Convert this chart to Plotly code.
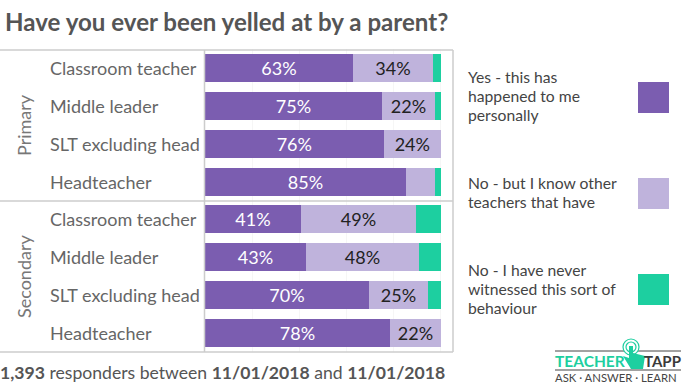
import plotly.graph_objects as go
from plotly.subplots import make_subplots

W, H = 684, 384
roles = ["Classroom teacher", "Middle leader", "SLT excluding head", "Headteacher"]
phases = ["Primary", "Secondary"]
series_names = ["Yes - this has happened to me personally",
                "No - but I know other teachers that have",
                "No - I have never witnessed this sort of behaviour"]
legend_lines = [["Yes - this has", "happened to me", "personally"],
                ["No - but I know other", "teachers that have"],
                ["No - I have never", "witnessed this sort of", "behaviour"]]
colors = ["#7B5DB0", "#BFB3DC", "#1DCFA0"]
text_colors = ["white", "#222222", "#222222"]

primary_yes = [62.7, 75.0, 75.7, 85.2]
primary_know = [33.9, 22.5, 24.3, 12.3]
primary_never = [3.4, 2.5, 0, 2.5]
primary_yes_labels = ["63%", "75%", "76%", "85%"]
primary_know_labels = ["34%", "22%", "24%", ""]

secondary_yes = [40.7, 42.8, 69.5, 78.4]
secondary_know = [48.7, 47.9, 25.0, 21.6]
secondary_never = [10.6, 9.3, 5.5, 0]
secondary_yes_labels = ["41%", "43%", "70%", "78%"]
secondary_know_labels = ["49%", "48%", "25%", "22%"]

px = lambda v: v / W
py = lambda v: 1 - v / H

fig = make_subplots(rows=2, cols=1, shared_xaxes=False, vertical_spacing=0)

data = [
    (1, [primary_yes, primary_know, primary_never],
     [primary_yes_labels, primary_know_labels, [""] * 4]),
    (2, [secondary_yes, secondary_know, secondary_never],
     [secondary_yes_labels, secondary_know_labels, [""] * 4]),
]
for row, vals, labels in data:
    for i in range(3):
        fig.add_trace(go.Bar(
            y=roles, x=vals[i], orientation="h", name=series_names[i],
            marker=dict(color=colors[i], line=dict(width=0)),
            text=labels[i], textposition="inside", insidetextanchor="middle",
            textangle=0, constraintext="none",
            textfont=dict(family="Lato", size=18, color=text_colors[i]),
            showlegend=False, hoverinfo="skip",
        ), row=row, col=1)

x_dom = [px(205), px(453)]
axis_common = dict(range=[0, 105.1], domain=x_dom, tickvals=[20, 40, 60, 80, 100],
                   showticklabels=False, ticks="", showgrid=True, gridcolor="#F6F6F6",
                   gridwidth=1, zeroline=False, showline=False)
fig.update_xaxes(**axis_common)
fig.update_yaxes(autorange="reversed", showticklabels=False, ticks="", showgrid=False,
                 zeroline=False, showline=False)
fig.update_layout(
    xaxis=dict(anchor="y"), xaxis2=dict(anchor="y2"),
    yaxis=dict(domain=[py(201), py(49)]),
    yaxis2=dict(domain=[py(352), py(200)]),
    barmode="stack", bargap=10 / 38,
    width=W, height=H, autosize=False, margin=dict(l=0, r=0, t=0, b=0),
    paper_bgcolor="white", plot_bgcolor="white",
    font=dict(family="Lato"), showlegend=False,
)

ann = []
for yref in ["y", "y2"]:
    for role in roles:
        ann.append(dict(x=px(48), xref="paper", y=role, yref=yref, text=role, showarrow=False,
                        xanchor="left", yanchor="middle",
                        font=dict(family="Lato", size=18, color="#666666")))
for name, yc in zip(phases, [125, 277]):
    ann.append(dict(x=px(24), xref="paper", y=py(yc), yref="paper", text=name, textangle=-90,
                    xanchor="center", yanchor="middle", showarrow=False,
                    font=dict(family="Lato", size=18, color="#777777")))
ann.append(dict(x=px(3), xref="paper", y=py(22), yref="paper", xanchor="left", yanchor="middle",
                text="<b>Have you ever been yelled at by a parent?</b>", showarrow=False,
                font=dict(family="Lato", size=24.1, color="#555555")))
ann.append(dict(x=px(-2), xref="paper", y=py(372), yref="paper", xanchor="left", yanchor="middle",
                text="<b>1,393</b> responders between <b>11/01/2018</b> and <b>11/01/2018</b>",
                showarrow=False, font=dict(family="Lato", size=17.6, color="#555555")))
for lines, ys in zip(legend_lines, [[77, 96, 115], [183, 202], [270, 289, 308]]):
    for lab, yc in zip(lines, ys):
        ann.append(dict(x=px(466), xref="paper", y=py(yc), yref="paper", xanchor="left", yanchor="middle",
                        align="left", text=lab, showarrow=False,
                        font=dict(family="Lato", size=15.7, color="#444444")))
# logo wordmark
ann.append(dict(x=px(553), xref="paper", y=py(360.5), yref="paper", xanchor="left", yanchor="middle",
                text="<b>TEACHER</b>", showarrow=False,
                font=dict(family="Lato", size=15.5, color="#1DCFA0")))
ann.append(dict(x=px(683), xref="paper", y=py(360.5), yref="paper", xanchor="right", yanchor="middle",
                text="<b>TAPP</b>", showarrow=False,
                font=dict(family="Lato", size=15, color="#3A3A3A")))
ann.append(dict(x=px(553), xref="paper", y=py(377.5), yref="paper", xanchor="left", yanchor="middle",
                text="ASK · ANSWER · LEARN", showarrow=False,
                font=dict(family="Lato", size=11.3, color="#444444")))

line = dict(color="#CCCCCC", width=1.5)
def hline(y, x0=0, x1=453, l=line):
    return dict(type="line", xref="paper", yref="paper", x0=px(x0), x1=px(x1), y0=py(y), y1=py(y), line=l)
def vline(x, y0=50, y1=352, l=line):
    return dict(type="line", xref="paper", yref="paper", x0=px(x), x1=px(x), y0=py(y0), y1=py(y1), line=l)
shapes = [hline(50), hline(201), hline(352), vline(204.5), vline(453)]
for c, (y0, y1) in zip(colors, [(82, 113), (178, 209), (274, 305)]):
    shapes.append(dict(type="rect", xref="paper", yref="paper", x0=px(638), x1=px(669),
                       y0=py(y0), y1=py(y1), fillcolor=c, line=dict(width=0)))
shapes.append(hline(351, 555, 681, dict(color="#444444", width=1)))
shapes.append(hline(370, 555, 681, dict(color="#444444", width=1)))
for r, w in [(8, 1.2), (5, 1.2)]:
    shapes.append(dict(type="circle", xref="paper", yref="paper", x0=px(631 - r), x1=px(631 + r),
                       y0=py(347 - r), y1=py(347 + r), fillcolor="white",
                       line=dict(color="#1DCFA0", width=w)))
shapes.append(dict(type="path", xref="paper", yref="paper",
                   path=f"M {px(629)} {py(346)} L {px(633)} {py(346)} L {px(633)} {py(353)} L {px(645)} {py(356)} "
                        f"L {px(643)} {py(369)} L {px(631)} {py(369)} L {px(623)} {py(356)} L {px(629)} {py(358)} Z",
                   fillcolor="#1DCFA0", line=dict(width=0)))
fig.update_layout(annotations=ann, shapes=shapes)
fig.write_html("out.html", config=dict(displayModeBar=False),
               post_script="document.body.style.margin='0';document.documentElement.style.overflow='hidden';")
